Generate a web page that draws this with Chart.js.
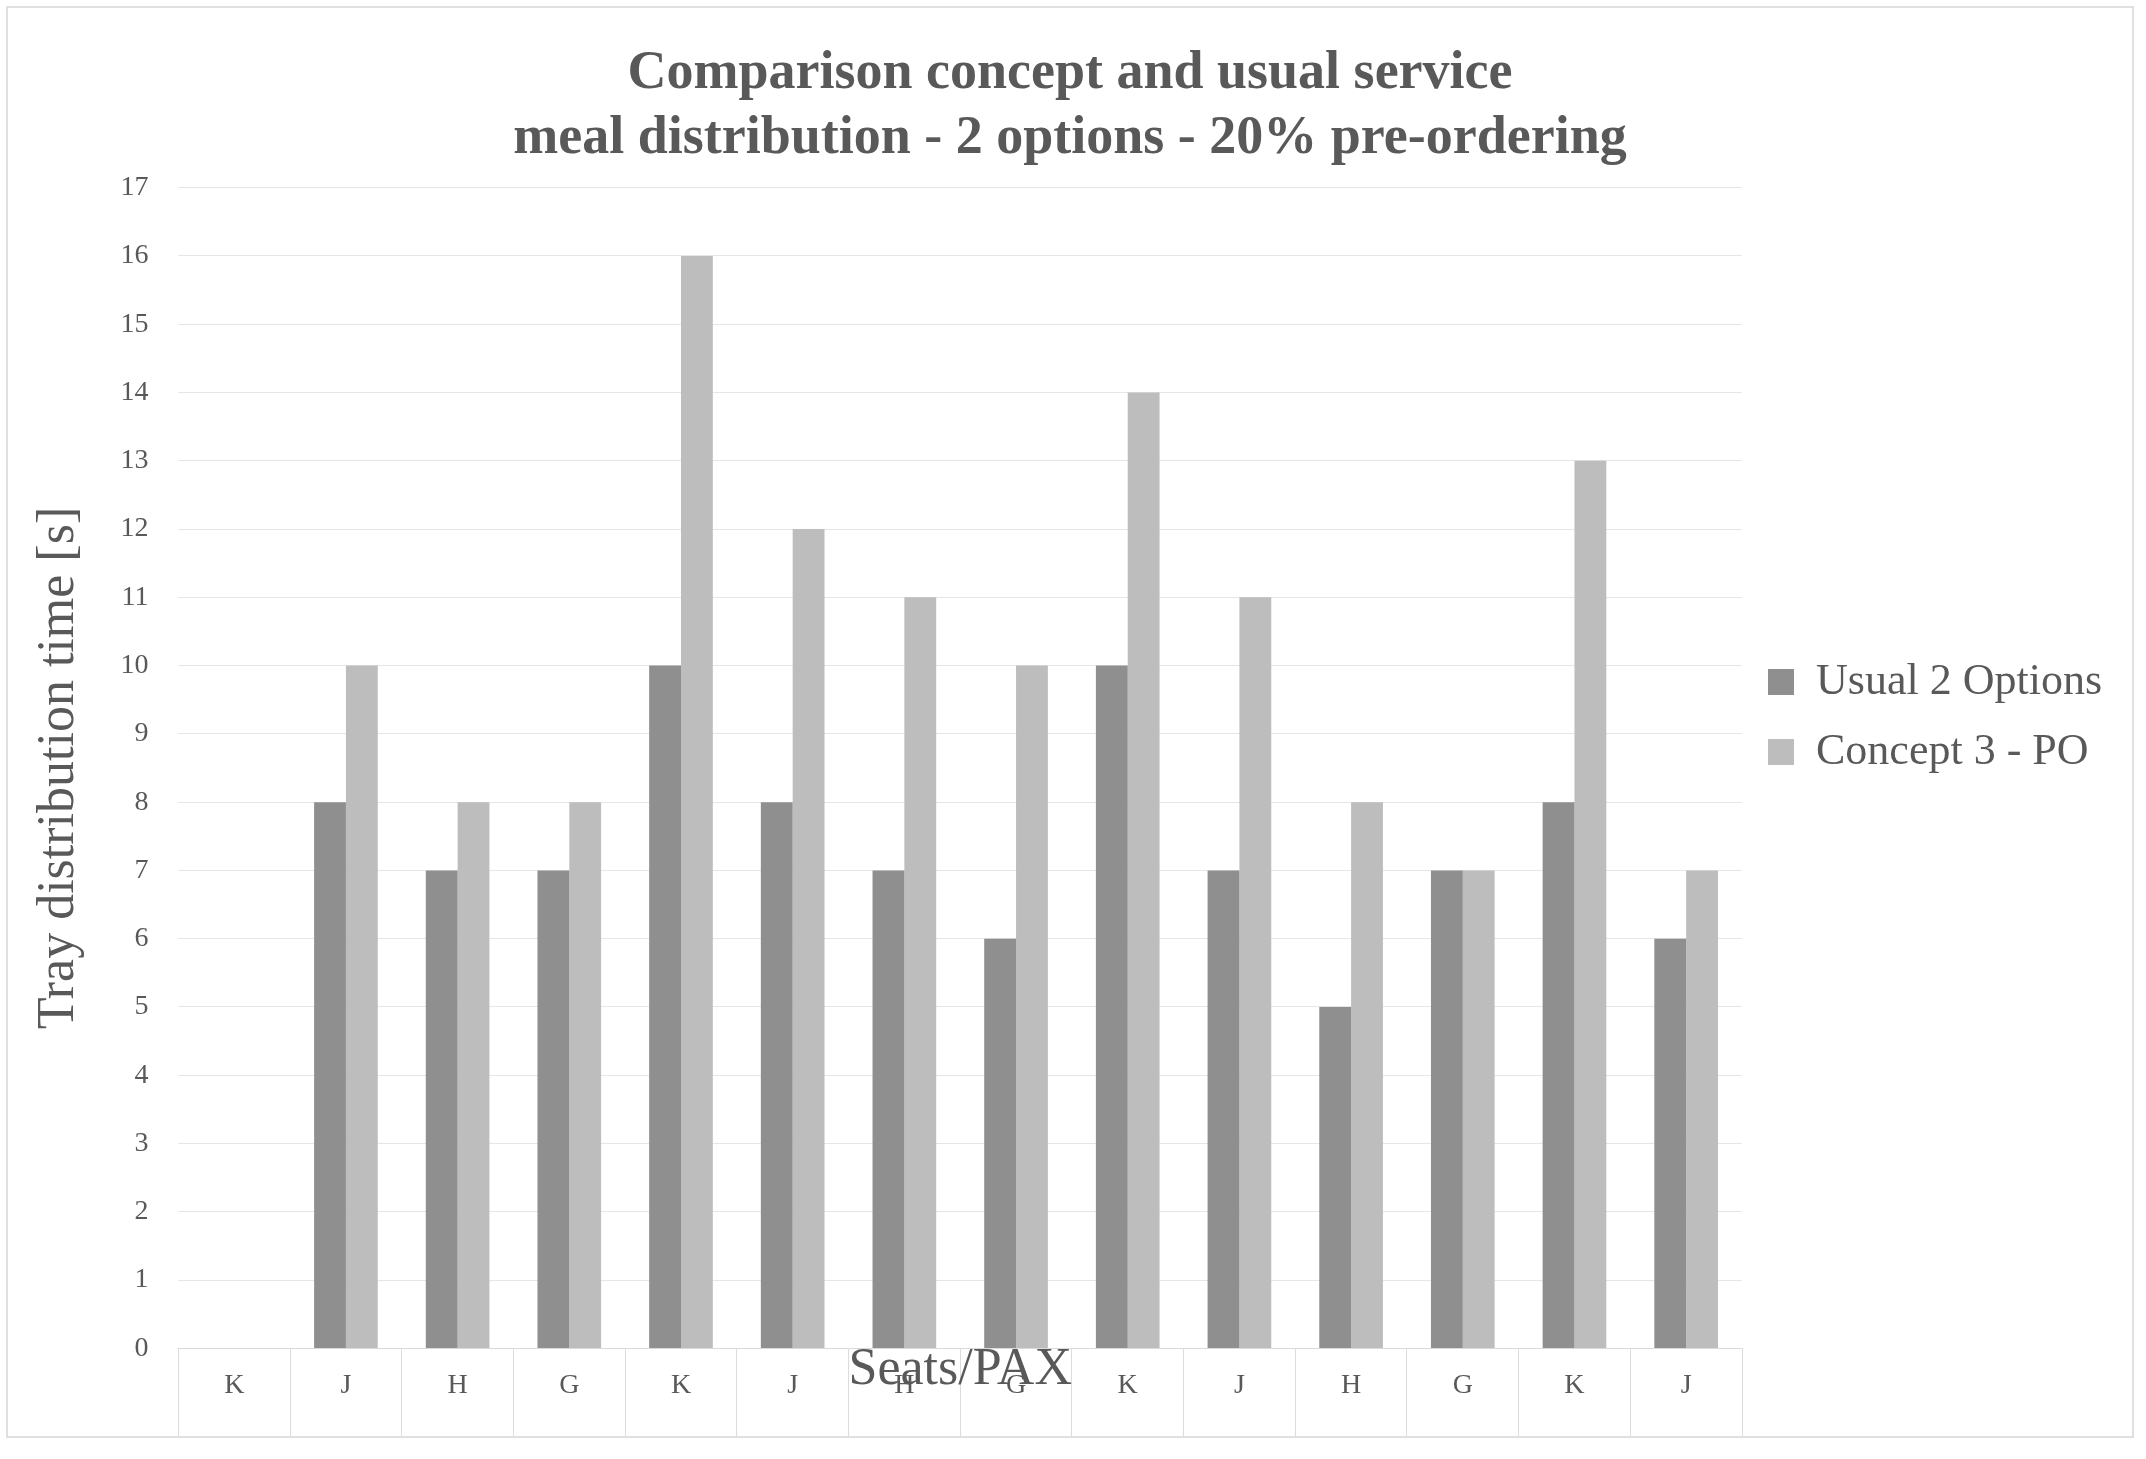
<!DOCTYPE html>
<html>
<head>
<meta charset="utf-8">
<script src="https://cdn.jsdelivr.net/npm/chart.js@4.4.0/dist/chart.umd.min.js"></script>
<style>
  body { margin: 0; background: #fff; }
  #wrap { position: absolute; left: 6px; top: 6px; width: 2128px; height: 1432px; border: 2px solid #e0e0e0; box-sizing: border-box; }
  canvas { display: block; }
</style>
</head>
<body>
<div id="wrap"><canvas id="chart" width="2124" height="1428"></canvas></div>
<script>
const seats = ['K', 'J', 'H', 'G', 'K', 'J', 'H', 'G', 'K', 'J', 'H', 'G', 'K', 'J'];
const rows = ['34', '34', '34', '34', '35', '35', '35', '35', '36', '36', '36', '36', '37', '37'];
const usual = [null, 8, 7, 7, 10, 8, 7, 6, 10, 7, 5, 7, 8, 6];
const concept = [null, 10, 8, 8, 16, 12, 11, 10, 14, 11, 8, 7, 13, 7];

const serif = "'Liberation Serif', 'DejaVu Serif', serif";
const labels = seats.map((s, i) => [s, rows[i]]);

new Chart(document.getElementById('chart'), {
  type: 'bar',
  data: {
    labels: labels,
    datasets: [
      { label: 'Usual 2 Options', data: usual, backgroundColor: '#8f8f8f' },
      { label: 'Concept 3 - PO', data: concept, backgroundColor: '#bdbdbd' }
    ]
  },
  options: {
    responsive: false,
    animation: false,
    devicePixelRatio: 1,
    layout: { padding: { left: 20, right: 20, top: 20, bottom: 30 } },
    categoryPercentage: 0.57,
    barPercentage: 1,
    plugins: {
      title: {
        display: true,
        text: ['Comparison concept and usual service', 'meal distribution - 2 options - 20% pre-ordering'],
        color: '#595959',
        font: { family: serif, size: 54 },
        padding: { top: 14, bottom: 16 }
      },
      legend: {
        position: 'right',
        labels: {
          color: '#595959',
          font: { family: serif, size: 44 },
          boxWidth: 26, boxHeight: 26, padding: 26
        }
      },
      tooltip: { enabled: false }
    },
    scales: {
      x: {
        grid: { offset: true, drawOnChartArea: false, drawTicks: true, tickLength: 120, color: '#dcdcdc' },
        border: { color: '#d9d9d9' },
        ticks: { color: '#595959', font: { family: serif, size: 28 }, padding: -100, maxRotation: 0, autoSkip: false },
        title: { display: true, text: 'Seats/PAX', color: '#595959', font: { family: serif, size: 52 }, padding: { top: 4 } }
      },
      y: {
        min: 0, max: 17,
        grid: { color: '#e6e6e6', drawTicks: false },
        border: { display: false },
        ticks: { stepSize: 1, color: '#595959', font: { family: serif, size: 28 }, padding: 30 },
        title: { display: true, text: 'Tray distribution time [s]', color: '#595959', font: { family: serif, size: 52 }, padding: 0 }
      }
    }
  }
});
</script>
</body>
</html>
